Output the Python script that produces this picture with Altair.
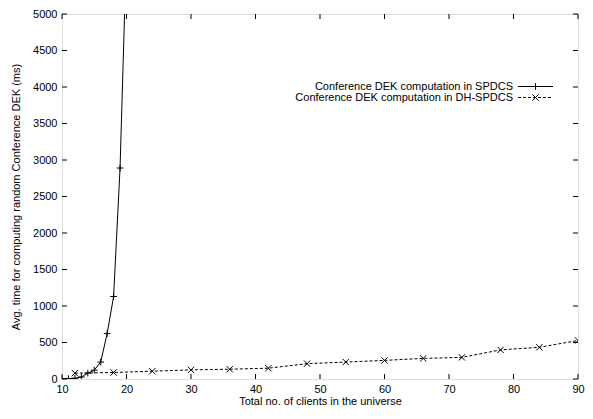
import altair as alt
import pandas as pd

# ---- data ----
series = ["Conference DEK computation in SPDCS", "Conference DEK computation in DH-SPDCS"]
x_spdcs = [10, 11, 12, 13, 14, 15, 16, 17, 18, 19, 20]
y_spdcs = [0, 5, 10, 27, 80, 121, 232, 622, 1130, 2890, 5900]
x_dh = [12, 18, 24, 30, 36, 42, 48, 54, 60, 66, 72, 78, 84, 90]
y_dh = [80, 89, 107, 125, 134, 148, 210, 232, 255, 282, 296, 399, 434, 528]
x_ticks = [10, 20, 30, 40, 50, 60, 70, 80, 90]
y_ticks = [0, 500, 1000, 1500, 2000, 2500, 3000, 3500, 4000, 4500, 5000]

W, H = 516, 365
FONT = "Liberation Sans"
FS = 11
PLUS = "M-1,0L1,0M0,-1L0,1"
CROSS = "M-1,-1L1,1M-1,1L1,-1"

df1 = pd.DataFrame({"x": x_spdcs, "y": y_spdcs})
df2 = pd.DataFrame({"x": x_dh, "y": y_dh})
dfx = pd.DataFrame({"x": x_ticks})
dfy = pd.DataFrame({"y": y_ticks})
dfl = pd.DataFrame({"label": series})

xs = alt.Scale(domain=[10, 90], nice=False, zero=False)
ys = alt.Scale(domain=[0, 5000], nice=False)

XT = "Total no. of clients in the universe"
YT = "Avg. time for computing random Conference DEK (ms)"
x_axis = alt.Axis(values=x_ticks, format="d", domain=False, ticks=False, grid=False,
                  labelFlush=False, labelOverlap=False,
                  labelFont=FONT, labelFontSize=FS, labelColor="black", labelPadding=4,
                  titleFont=FONT, titleFontSize=FS, titleFontWeight="normal",
                  titleColor="black", titlePadding=1)
y_axis = alt.Axis(values=y_ticks, format="d", domain=False, ticks=False, grid=False,
                  labelFlush=False, labelOverlap=False,
                  labelFont=FONT, labelFontSize=FS, labelColor="black", labelPadding=5,
                  titleFont=FONT, titleFontSize=FS, titleFontWeight="normal",
                  titleColor="black", titlePadding=11)

X = alt.X("x:Q", scale=xs, axis=x_axis, title=XT)
Y = alt.Y("y:Q", scale=ys, axis=y_axis, title=YT)

line1 = alt.Chart(df1).mark_line(color="black", strokeWidth=1, clip=True).encode(x=X, y=Y)
pts1 = alt.Chart(df1).mark_point(shape=PLUS, size=45, color="black", strokeWidth=1,
                                  filled=False, opacity=1, clip=True).encode(x=X, y=Y)
line2 = alt.Chart(df2).mark_line(color="black", strokeWidth=1, strokeDash=[3, 2],
                                 clip=True).encode(x=X, y=Y)
pts2 = alt.Chart(df2).mark_point(shape=CROSS, size=40, color="black", strokeWidth=1,
                                  filled=False, opacity=1, clip=True).encode(x=X, y=Y)

# inward tick marks on all four sides
tk = 5
bt = alt.Chart(dfx).mark_rule(color="black", strokeWidth=1).encode(
    x=X, y=alt.value(H), y2=alt.value(H - tk))
tt = alt.Chart(dfx).mark_rule(color="black", strokeWidth=1).encode(
    x=X, y=alt.value(0), y2=alt.value(tk))
lt = alt.Chart(dfy).mark_rule(color="black", strokeWidth=1).encode(
    y=Y, x=alt.value(0), x2=alt.value(tk))
rt = alt.Chart(dfy).mark_rule(color="black", strokeWidth=1).encode(
    y=Y, x=alt.value(W), x2=alt.value(W - tk))

# legend (gnuplot style: text, then sample)
LX, S0, S1 = 451, 456, 491
R1, R2 = 72.5, 83.5
leg_t1 = alt.Chart(dfl.iloc[[0]]).mark_text(align="right", baseline="middle", font=FONT,
                                            fontSize=FS, color="black").encode(
    text="label:N", x=alt.value(LX), y=alt.value(R1))
leg_t2 = alt.Chart(dfl.iloc[[1]]).mark_text(align="right", baseline="middle", font=FONT,
                                            fontSize=FS, color="black").encode(
    text="label:N", x=alt.value(LX), y=alt.value(R2))
leg_l1 = alt.Chart(dfl.iloc[[0]]).mark_rule(color="black", strokeWidth=1).encode(
    x=alt.value(S0), x2=alt.value(S1), y=alt.value(R1))
leg_l2 = alt.Chart(dfl.iloc[[1]]).mark_rule(color="black", strokeWidth=1, strokeDash=[3, 2]).encode(
    x=alt.value(S0), x2=alt.value(S1), y=alt.value(R2))
leg_p1 = alt.Chart(dfl.iloc[[0]]).mark_point(shape=PLUS, size=45, color="black", strokeWidth=1,
                                             filled=False, opacity=1).encode(
    x=alt.value((S0 + S1) / 2), y=alt.value(R1))
leg_p2 = alt.Chart(dfl.iloc[[1]]).mark_point(shape=CROSS, size=40, color="black", strokeWidth=1,
                                             filled=False, opacity=1).encode(
    x=alt.value((S0 + S1) / 2), y=alt.value(R2))

chart = alt.layer(
    line1, pts1, line2, pts2, bt, tt, lt, rt,
    leg_t1, leg_t2, leg_l1, leg_l2, leg_p1, leg_p2,
).properties(
    width=W, height=H,
    autosize=alt.AutoSizeParams(type="none"),
    padding={"left": 54, "top": 6, "right": 7, "bottom": 26},
).configure_view(stroke="black", strokeWidth=1.2).configure(background="white")

chart.save("out.html", embed_options={"renderer": "svg", "actions": False})
